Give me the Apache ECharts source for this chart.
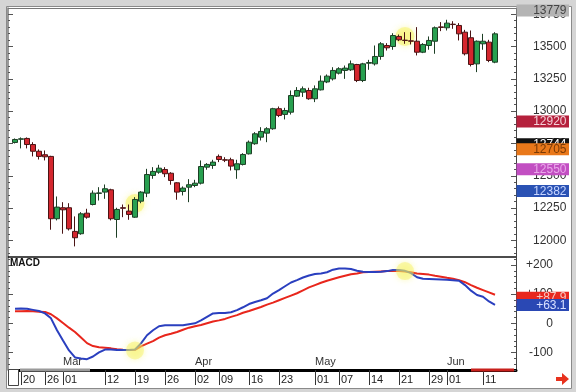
<!DOCTYPE html>
<html><head><meta charset="utf-8">
<script src="https://cdn.jsdelivr.net/npm/echarts@6/dist/echarts.min.js"></script>
<style>html,body{margin:0;padding:0;background:#fff}#c{width:576px;height:392px}</style>
</head><body><div id="c"></div>
<script>
const dates = ['Feb 16','Feb 20','Feb 21','Feb 22','Feb 23','Feb 26','Feb 27','Feb 28',
'Mar 1','Mar 2','Mar 5','Mar 6','Mar 7','Mar 8','Mar 9','Mar 12','Mar 13','Mar 14','Mar 15','Mar 16','Mar 19','Mar 20','Mar 21','Mar 22','Mar 23','Mar 26','Mar 27','Mar 28','Mar 29','Mar 30',
'Apr 2','Apr 3','Apr 4','Apr 5','Apr 9','Apr 10','Apr 11','Apr 12','Apr 13','Apr 16','Apr 17','Apr 18','Apr 19','Apr 20','Apr 23','Apr 24','Apr 25','Apr 26','Apr 27','Apr 30',
'May 1','May 2','May 3','May 4','May 7','May 8','May 9','May 10','May 11','May 14','May 15','May 16','May 17','May 18','May 21','May 22','May 23','May 24','May 25','May 29','May 30','May 31',
'Jun 1','Jun 4','Jun 5','Jun 6','Jun 7','Jun 8','Jun 11','Jun 12','Jun 13','Jun 14','Jun 15','Jun 18'];

const opens  = [12758,12783,12789,12742,12690,12663,12650,12168,12253,12253,12070,12052,12211,12278,12364,12374,12392,12162,12253,12227,12180,12304,12366,12503,12528,12549,12520,12446,12379,12412,12425,12443,12567,12580,12650,12624,12624,12547,12588,12670,12748,12799,12830,12864,13019,12975,12992,13116,13147,13160,13096,13165,13226,13250,13294,13315,13320,13361,13237,13371,13366,13423,13508,13500,13578,13549,13544,13541,13456,13508,13541,13652,13645,13673,13663,13611,13568,13366,13521,13534,13379];
const closes = [12781,12786,12742,12690,12650,12647,12168,12258,12237,12090,12021,12206,12180,12366,12368,12400,12168,12240,12249,12201,12317,12374,12510,12534,12559,12516,12464,12374,12405,12431,12443,12572,12588,12606,12626,12621,12575,12593,12665,12760,12825,12843,12864,13019,12967,13005,13121,13160,13173,13096,13173,13232,13271,13315,13328,13333,13366,13237,13366,13376,13423,13521,13490,13585,13552,13547,13541,13456,13516,13547,13645,13648,13681,13670,13598,13444,13361,13541,13541,13392,13598];
const lows   = [12750,12712,12712,12650,12626,12619,12083,12155,12052,12077,11954,12044,12168,12271,12309,12322,12155,12021,12180,12160,12175,12288,12335,12477,12516,12490,12431,12315,12348,12296,12412,12433,12547,12554,12606,12606,12541,12477,12580,12665,12740,12773,12760,12856,12954,12936,12974,13110,13110,13088,13070,13160,13217,13237,13284,13250,13311,13225,13225,13320,13353,13398,13469,13475,13542,13521,13516,13431,13449,13475,13444,13619,13624,13637,13547,13431,13346,13302,13475,13379,13371];
const highs  = [12789,12797,12797,12760,12704,12696,12655,12340,12296,12288,12186,12219,12245,12387,12412,12433,12400,12253,12278,12278,12335,12381,12554,12567,12585,12567,12528,12451,12418,12474,12469,12619,12598,12624,12665,12644,12640,12624,12675,12773,12838,12876,12876,13026,13036,13026,13160,13186,13191,13181,13199,13276,13284,13340,13340,13353,13392,13366,13374,13397,13508,13534,13526,13603,13593,13611,13611,13650,13526,13578,13655,13689,13707,13696,13681,13629,13624,13547,13598,13552,13611];

const macdLine   = [50,51,50,46,42,34,17,-24,-59,-93,-117,-121,-123,-114,-100,-90,-90,-92,-92,-92,-90,-69,-41,-24,-10,-7,-7,-7,-7,-3,0,10,22,34,35,35,38,45,55,66,73,79,86,102,114,127,140,148,157,164,169,171,175,184,188,188,186,180,177,176,176,177,179,183,183,180,172,158,153,152,151,150,149,148,146,131,112,97,91,75,63];
const signalLine = [41,41,42,41,40,39,31,17,1,-15,-30,-49,-68,-78,-82,-84,-86,-89,-91,-92,-91,-79,-70,-61,-49,-41,-36,-30,-22,-15,-10,-6,0,6,10,15,22,28,36,42,49,56,64,71,79,87,95,103,113,123,131,139,146,152,158,163,168,171,175,176,177,178,179,179,179,178,175,171,169,167,163,160,156,153,148,141,131,122,114,106,98];

const priceTickLabels = [12000,12250,12500,12750,13000,13250,13500,13750];
const macdTickLabels = [-100,0,100,200];
const dateTicks = ['Feb 20','Feb 26','Mar 1','Mar 12','Mar 19','Mar 26','Apr 2','Apr 9','Apr 16','Apr 23','May 1','May 7','May 14','May 21','May 29','Jun 1','Jun 11'];
const monthStarts = ['Mar 1','Apr 2','May 1','Jun 1'];
const monthNames = ['Mar','Apr','May','Jun'];

const priceMarkers = [13779,12920,12744,12705,12550,12382];
const priceMarkerBg = ['#b4b4b4','#b5203c','#111111','#e9781a','#c24fc2','#2a52b4'];
const priceMarkerFg = ['#444444','#f4d0d8','#ffffff','#7a3a05','#eaa8ea','#c8d6ff'];
const macdMarkers = [87.9, 63.1];
const macdMarkerBg = ['#e8281e','#2a48b4'];
const macdMarkerFg = ['#f6c6c0','#d8e0ff'];

const priceHighlights = [[19.5,12286],[65,13578]];
const macdHighlights = [[19.7,-93],[65,179]];

const FONT = 'Liberation Sans, Arial, sans-serif';
const pMin = 11872, pMax = 13798, mMin = -160.2, mMax = 227.4;

function range(a,b,s){const r=[];for(let v=a;v<=b+1e-9;v+=s)r.push(v);return r;}
const priceMinor = range(11900, 13750, 50);
const macdMinor = range(-160, 220, 20);

const chart = echarts.init(document.getElementById('c'), null, {renderer:'canvas'});

function yAx(grid, pos, min, max, ticks, len, opts){
  return Object.assign({
    type:'value', gridIndex:grid, position:pos, min:min, max:max, scale:true,
    splitLine:{show:false},
    axisLine:{show:false},
    axisTick:{show:true, inside:true, length:len, customValues:ticks, lineStyle:{color:'#555', width:1}},
    axisLabel:{show:false}
  }, opts||{});
}

const frame = [
  {type:'rect', z:-100, silent:true, shape:{x:0,y:0,width:576,height:392}, style:{fill:'#d5d5d5'}},
  {type:'rect', z:-99, silent:true, shape:{x:6.5,y:6.5,width:565,height:382}, style:{fill:'#ffffff', stroke:'#8a8a8a', lineWidth:1}},
  {type:'line', z:50, silent:true, shape:{x1:8,y1:8.5,x2:516,y2:8.5}, style:{stroke:'#777', lineWidth:1}},
  {type:'line', z:50, silent:true, shape:{x1:8,y1:257,x2:516,y2:257}, style:{stroke:'#111', lineWidth:1.5}},
  {type:'rect', z:60, silent:true, shape:{x:20,y:368.5,width:70,height:3}, style:{fill:'#9a9a9a'}},
  {type:'rect', z:60, silent:true, shape:{x:471,y:368.5,width:43,height:3}, style:{fill:'#c8201c'}},
  {type:'rect', z:60, silent:true, shape:{x:8.5,y:369.5,width:10,height:16}, style:{fill:'#fff', stroke:'#444', lineWidth:1}},
  {type:'polygon', z:60, silent:true, shape:{points:[[556,377],[562,377],[562,373],[569,379],[562,385],[562,381],[556,381]]}, style:{fill:'#e8321e'}},
  {type:'text', z:60, silent:true, x:10, y:258, style:{text:'MACD', font:'bold 10px '+FONT, fill:'#111'}}
];

const option = {
  animation:false,
  backgroundColor:'#ffffff',
  grid:[
    {left:12, top:8, width:504, height:249},
    {left:12, top:257, width:504, height:113}
  ],
  xAxis:[
    {type:'category', data:dates, gridIndex:0, boundaryGap:true,
     axisLine:{show:false}, axisTick:{show:false}, axisLabel:{show:false}},
    {type:'category', data:dates, gridIndex:1, boundaryGap:true, position:'bottom',
     axisLine:{show:true, onZero:false, lineStyle:{color:'#000', width:3}},
     axisTick:{show:true, alignWithLabel:true, length:15,
       interval:(i,v)=>dateTicks.indexOf(v)>=0, lineStyle:{color:'#333', width:1}},
     axisLabel:{show:true, interval:(i,v)=>dateTicks.indexOf(v)>=0,
       formatter:v=>v.split(' ')[1].padStart(2,'0'), align:'left', padding:[0,0,0,2],
       margin:4, fontSize:11, color:'#222', fontFamily:FONT}},
    {type:'category', data:dates, gridIndex:1, boundaryGap:true, position:'bottom',
     axisLine:{show:false, onZero:false}, axisTick:{show:false},
     axisLabel:{show:true, inside:true, interval:(i,v)=>monthStarts.indexOf(v)>=0,
       formatter:v=>monthNames[monthStarts.indexOf(v)], align:'left', margin:3,
       fontSize:11, color:'#333', fontFamily:FONT}}
  ],
  yAxis:[
    yAx(0,'right',pMin,pMax,priceTickLabels,5,{
      axisLine:{show:true, lineStyle:{color:'#444', width:1}},
      axisLabel:{show:true, customValues:priceTickLabels, margin:17, align:'left', fontSize:12, color:'#333', fontFamily:FONT,
        formatter:v=>String(v)}}),
    yAx(0,'right',pMin,pMax,priceMinor,2),
    yAx(0,'left',pMin,pMax,priceTickLabels,5,{offset:4, axisLine:{show:true, lineStyle:{color:'#777', width:1.5}}}),
    yAx(0,'left',pMin,pMax,priceMinor,2,{offset:4}),
    yAx(1,'right',mMin,mMax,macdTickLabels,5,{
      axisLine:{show:true, lineStyle:{color:'#444', width:1}},
      axisLabel:{show:true, customValues:macdTickLabels, margin:37, align:'right', fontSize:12, color:'#333', fontFamily:FONT,
        formatter:v=>v>0?('+'+v):String(v)}}),
    yAx(1,'right',mMin,mMax,macdMinor,2),
    yAx(1,'left',mMin,mMax,macdTickLabels,5,{offset:4, axisLine:{show:true, lineStyle:{color:'#777', width:1.5}}}),
    yAx(1,'left',mMin,mMax,macdMinor,2,{offset:4})
  ],
  series:[
    {type:'scatter', xAxisIndex:0, yAxisIndex:0, data:priceHighlights, symbolSize:19, z:1, silent:true,
     itemStyle:{color:'rgba(246,242,90,0.6)', shadowBlur:6, shadowColor:'rgba(246,242,90,0.9)'}},
    {type:'candlestick', xAxisIndex:0, yAxisIndex:0, barWidth:5,
     data: opens.map((o,i)=>[o, closes[i], lows[i], highs[i]]),
     itemStyle:{color:'#28a050', color0:'#d4262e', borderColor:'#1d3f25', borderColor0:'#4a1414', borderWidth:1}},
    {type:'line', xAxisIndex:1, yAxisIndex:4, data:signalLine, showSymbol:false, z:2,
     lineStyle:{color:'#e8261c', width:2}, itemStyle:{color:'#e8261c'}},
    {type:'line', xAxisIndex:1, yAxisIndex:4, data:macdLine, showSymbol:false, z:2,
     lineStyle:{color:'#2a3fbf', width:2}, itemStyle:{color:'#2a3fbf'}},
    {type:'scatter', xAxisIndex:1, yAxisIndex:4, data:macdHighlights, symbolSize:18, z:3, silent:true,
     itemStyle:{color:'rgba(246,242,90,0.55)', shadowBlur:6, shadowColor:'rgba(246,242,90,0.9)'}}
  ],
  graphic: frame
};
chart.setOption(option);

// value boxes on the right axes, placed through the axes' own scales
function boxes(values, axisIdx, bg, fg, fmt){
  const out = [];
  values.forEach((v,i)=>{
    const y = chart.convertToPixel({yAxisIndex:axisIdx}, v);
    out.push({type:'rect', z:70+i*2, silent:true, shape:{x:516.5, y:y-6, width:52.5, height:12}, style:{fill:bg[i]}});
    out.push({type:'text', z:71+i*2, silent:true, x:566.5, y:y+0.5,
      style:{text:fmt(v), align:'right', verticalAlign:'middle', font:'12px '+FONT, fill:fg[i]}});
  });
  return out;
}
const extra = boxes(priceMarkers, 0, priceMarkerBg, priceMarkerFg, v=>String(v))
  .concat(boxes(macdMarkers, 4, macdMarkerBg, macdMarkerFg, v=>'+'+v.toFixed(1)));
chart.setOption({graphic: frame.concat(extra)});
</script></body></html>
